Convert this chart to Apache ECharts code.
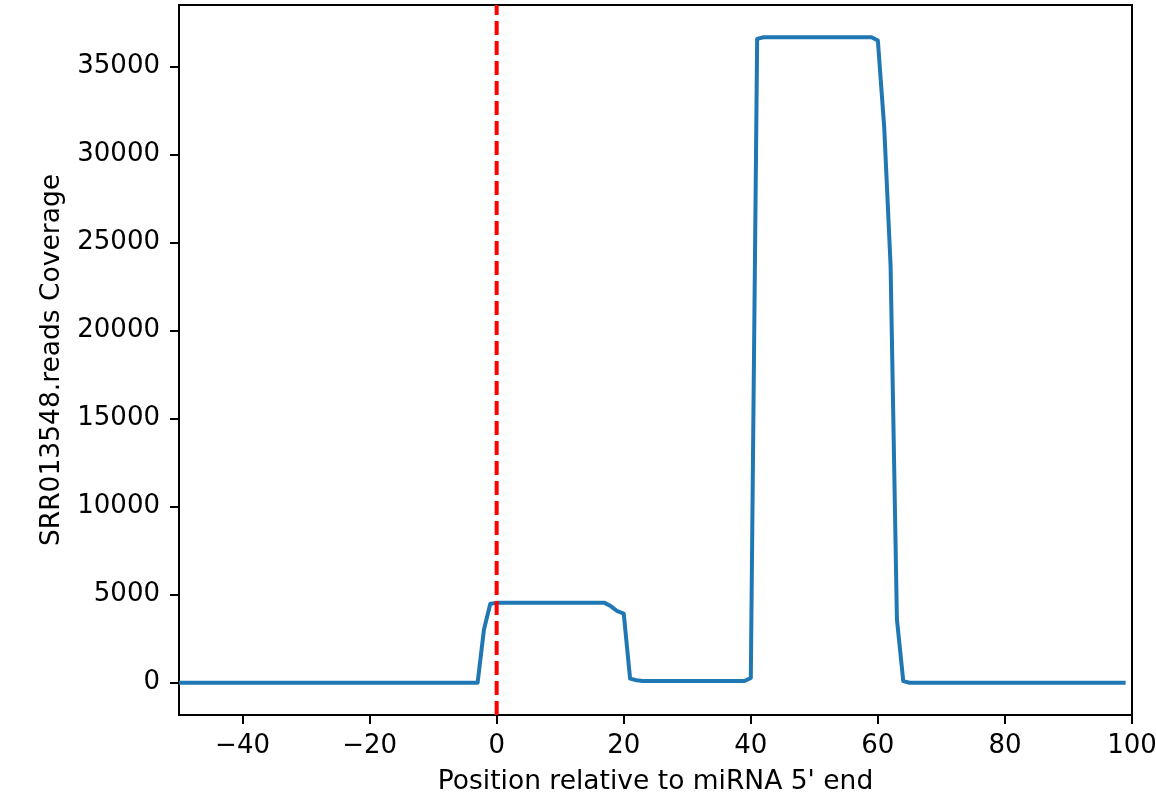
<!DOCTYPE html>
<html>
<head>
<meta charset="utf-8">
<script src="https://cdn.jsdelivr.net/npm/echarts@6/dist/echarts.min.js"></script>
<style>
html,body{margin:0;padding:0;background:#fff;}
#c{width:1156px;height:799px;}
</style>
</head>
<body>
<div id="c"></div>
<script>
// Data
const positions = [];
for (let p = -50; p <= 99; p++) positions.push(p);
const coverage = [
  // -50 .. -3
  0,0,0,0,0,0,0,0,0,0, 0,0,0,0,0,0,0,0,0,0, 0,0,0,0,0,0,0,0,0,0, 0,0,0,0,0,0,0,0,0,0, 0,0,0,0,0,0,0,0,
  // -2, -1
  3020, 4490,
  // 0 .. 17
  4535,4535,4535,4535,4535,4535,4535,4535,4535,4535,4535,4535,4535,4535,4535,4535,4535,4535,
  // 18 .. 22
  4340, 4060, 3930, 230, 140,
  // 23 .. 39
  100,100,100,100,100,100,100,100,100,100,100,100,100,100,100,100,100,
  // 40, 41
  270, 36565,
  // 42 .. 59
  36655,36655,36655,36655,36655,36655,36655,36655,36655,36655,36655,36655,36655,36655,36655,36655,36655,36655,
  // 60 .. 64
  36470, 31540, 23720, 3590, 90,
  // 65 .. 99
  0,0,0,0,0,0,0,0,0,0, 0,0,0,0,0,0,0,0,0,0, 0,0,0,0,0,0,0,0,0,0, 0,0,0,0,0
];
const xTicks = [-40, -20, 0, 20, 40, 60, 80, 100];
const yTicks = [0, 5000, 10000, 15000, 20000, 25000, 30000, 35000];
const xRange = [-50, 100];
const yRange = [-1833, 38488];
const markerX = 0;
const xName = "Position relative to miRNA 5' end";
const yName = "SRR013548.reads Coverage";

const seriesData = positions.map((p, i) => [p, coverage[i]]);
const font = 'DejaVu Sans';

const chart = echarts.init(document.getElementById('c'), null, {renderer: 'canvas'});
chart.setOption({
  animation: false,
  backgroundColor: '#fff',
  grid: {left: 179, right: 24, top: 5, bottom: 84, containLabel: false, outerBoundsMode: 'none',
    show: true, borderColor: '#000', borderWidth: 2, backgroundColor: 'transparent'},
  xAxis: {
    type: 'value', min: xRange[0], max: xRange[1],
    name: xName, nameLocation: 'middle', nameGap: 54,
    nameTextStyle: {fontFamily: font, fontSize: 26.5, color: '#000'},
    axisLine: {show: true, onZero: false, lineStyle: {color: '#000', width: 2}},
    axisTick: {show: true, length: 9, lineStyle: {color: '#000', width: 2}, customValues: xTicks},
    axisLabel: {show: true, margin: 18, fontFamily: font, fontSize: 26, color: '#000', customValues: xTicks,
      formatter: v => String(v).replace('-', '\u2212')},
    splitLine: {show: false}
  },
  yAxis: {
    type: 'value', min: yRange[0], max: yRange[1],
    name: yName, nameLocation: 'middle', nameGap: 113,
    nameTextStyle: {fontFamily: font, fontSize: 26.5, color: '#000'},
    axisLine: {show: true, onZero: false, lineStyle: {color: '#000', width: 2}},
    axisTick: {show: true, length: 9, lineStyle: {color: '#000', width: 2}, customValues: yTicks},
    axisLabel: {show: true, margin: 19, fontFamily: font, fontSize: 26, color: '#000', customValues: yTicks,
      formatter: v => String(v)},
    splitLine: {show: false}
  },
  series: [
    {
      type: 'line', data: seriesData, showSymbol: false, symbol: 'none',
      lineStyle: {color: '#1f77b4', width: 4, join: 'round', cap: 'butt'},
      z: 2
    },
    {
      type: 'line', data: [[markerX, yRange[0]], [markerX, yRange[1]]], showSymbol: false, symbol: 'none',
      lineStyle: {color: '#ff0000', width: 4, type: [14, 6]},
      z: 3
    }
  ]
});
</script>
</body>
</html>
